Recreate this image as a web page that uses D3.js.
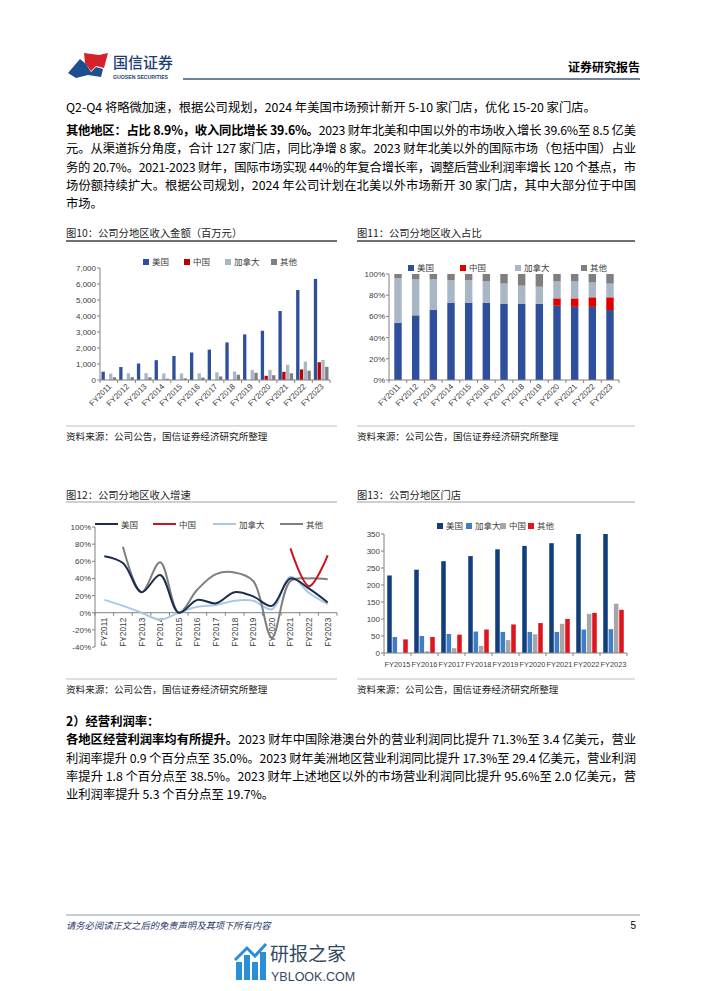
<!DOCTYPE html>
<html><head><meta charset="utf-8">
<script src="https://cdn.jsdelivr.net/npm/d3@7/dist/d3.min.js"></script>
<style>body{margin:0;background:#fff}svg{display:block}</style>
</head><body>
<script>
// ---------- DATA ----------
const years = ['FY2011','FY2012','FY2013','FY2014','FY2015','FY2016','FY2017','FY2018','FY2019','FY2020','FY2021','FY2022','FY2023'];
const seriesRev = ['美国','中国','加拿大','其他'];
// Fig10 revenue (million)
const revUS = [520,810,1030,1240,1500,1720,1900,2350,2850,3080,4310,5620,6320];
const revCN = [0,0,0,0,0,0,0,0,0,260,510,660,1110];
const revCA = [400,420,430,410,410,420,480,530,620,630,950,1150,1250];
const revOT = [170,180,170,80,100,150,220,330,450,300,420,580,820];
// Fig11 share
const shUS = [0.54,0.61,0.66,0.73,0.73,0.73,0.72,0.72,0.72,0.70,0.69,0.69,0.66];
const shCN = [0,0,0,0,0,0,0,0,0,0.07,0.08,0.09,0.12];
const shCA = [0.42,0.34,0.29,0.21,0.21,0.20,0.19,0.17,0.16,0.16,0.16,0.14,0.13];
const shOT = [0.04,0.05,0.05,0.06,0.06,0.07,0.09,0.11,0.12,0.07,0.07,0.08,0.09];
// Fig12 growth (%)
const grUS = [66,58,24,44,0,15,11,24,19,8,40,28,12];
const grCN = [null,null,null,null,null,null,null,null,null,null,75,31,67];
const grCA = [15,8,0,-8,0,7,9,14,14,4,42,23,10];
const grOT = [null,77,24,59,0,27,45,47,37,-29,37,40,39];
// Fig13 stores
const years13 = ['FY2015','FY2016','FY2017','FY2018','FY2019','FY2020','FY2021','FY2022','FY2023'];
const seriesStore = ['美国','加拿大','中国','其他'];
const stUS = [228,245,270,285,305,315,323,350,350];
const stCA = [47,50,56,63,62,62,62,69,70];
const stCN = [0,5,14,21,38,55,86,115,145];
const stOT = [40,47,54,69,84,88,100,118,127];

// ---------- PAGE ----------
const W=702,H=991;
const CJK = '"Noto Sans CJK SC","Noto Sans",sans-serif';
const NUM = '"Liberation Sans",Arial,sans-serif';
const svg = d3.select('body').append('svg').attr('width',W).attr('height',H);
svg.append('rect').attr('width',W).attr('height',H).attr('fill','#fff');

// header logo
const lg = svg.append('g');
lg.append('path').attr('d','M84,53 L99,55 L108,53 L104,68 L96,66 L91,71 L85,63 Z').attr('fill','#d7212a');
lg.append('path').attr('d','M68,73 L80,59 L86,64 L91,72 L96,67 L103,69 L101,77 L88,75 L76,78 Z').attr('fill','#1d4e8f');
lg.append('text').attr('x',113).attr('y',68).attr('font-family',CJK).attr('font-size',15).attr('fill','#1d3f73').attr('font-weight',500).text('国信证券');
lg.append('text').attr('x',113).attr('y',79).attr('font-family',NUM).attr('font-size',5.2).attr('font-weight','bold').attr('fill','#1d3f73').text('GUOSEN SECURITIES');
svg.append('line').attr('x1',183).attr('x2',640).attr('y1',79).attr('y2',79).attr('stroke','#3b5878').attr('stroke-width',1.5);
svg.append('text').attr('x',640).attr('y',72).attr('text-anchor','end').attr('font-family',CJK).attr('font-size',12).attr('font-weight','bold').text('证券研究报告');

// body text helper
function para(x,y,segs,len){
  const t = svg.append('text').attr('x',x).attr('y',y).attr('font-family',CJK).attr('font-size',12.3).attr('fill','#000');
  segs.forEach(s=>{t.append('tspan').attr('font-weight',s[1]?'bold':'normal').text(s[0]);});
  if(len){t.attr('textLength',len).attr('lengthAdjust','spacing');}
  return t;
}
const LW = 570;
para(66,112,[['Q2-Q4 将略微加速，根据公司规划，2024 年美国市场预计新开 5-10 家门店，优化 15-20 家门店。',0]]);
para(66,135,[['其他地区：占比 8.9%，收入同比增长 39.6%。',1],['2023 财年北美和中国以外的市场收入增长 39.6%至 8.5 亿美',0]],LW);
para(66,153,[['元。从渠道拆分角度，合计 127 家门店，同比净增 8 家。2023 财年北美以外的国际市场（包括中国）占业',0]],LW);
para(66,172,[['务的 20.7%。2021-2023 财年，国际市场实现 44%的年复合增长率，调整后营业利润率增长 120 个基点，市',0]],LW);
para(66,190,[['场份额持续扩大。根据公司规划，2024 年公司计划在北美以外市场新开 30 家门店，其中大部分位于中国',0]],LW);
para(66,208,[['市场。',0]]);

para(66,726,[['2）经营利润率：',1]]);
para(66,744,[['各地区经营利润率均有所提升。',1],['2023 财年中国除港澳台外的营业利润同比提升 71.3%至 3.4 亿美元，营业',0]],LW);
para(66,763,[['利润率提升 0.9 个百分点至 35.0%。2023 财年美洲地区营业利润同比提升 17.3%至 29.4 亿美元，营业利润',0]],LW);
para(66,781,[['率提升 1.8 个百分点至 38.5%。2023 财年上述地区以外的市场营业利润同比提升 95.6%至 2.0 亿美元，营',0]],LW);
para(66,799,[['业利润率提升 5.3 个百分点至 19.7%。',0]]);

// chart frames
function frame(x1,x2,ty,lineY,lineCol,srcLineY,srcY,title){
  svg.append('text').attr('x',x1).attr('y',ty).attr('font-family',CJK).attr('font-size',10.3).attr('fill','#222').text(title);
  svg.append('line').attr('x1',x1).attr('x2',x2).attr('y1',lineY).attr('y2',lineY).attr('stroke',lineCol).attr('stroke-width',1.3);
  svg.append('line').attr('x1',x1).attr('x2',x2).attr('y1',srcLineY).attr('y2',srcLineY).attr('stroke','#bfbfbf').attr('stroke-width',1);
  svg.append('text').attr('x',x1).attr('y',srcY).attr('font-family',CJK).attr('font-size',9.6).attr('fill','#222').text('资料来源：公司公告，国信证券经济研究所整理');
}
frame(66,337,237,241,'#404040',426,440,'图10：公司分地区收入金额（百万元）');
frame(357,635,237,241,'#404040',426,440,'图11：公司分地区收入占比');
frame(66,337,499,502,'#bfbfbf',679,693,'图12：公司分地区收入增速');
frame(357,635,499,502,'#bfbfbf',679,693,'图13：公司分地区门店');

const axCol = '#808080', txtCol = '#404040';
function legendSq(items,y,colors,xs){
  items.forEach((n,i)=>{
    svg.append('rect').attr('x',xs[i]).attr('y',y-3).attr('width',6).attr('height',6).attr('fill',colors[i]);
    svg.append('text').attr('x',xs[i]+9).attr('y',y+3).attr('font-family',CJK).attr('font-size',8.5).attr('fill',txtCol).text(n);
  });
}
function yAxis(g,scale,x,ticks,fmt){
  g.append('line').attr('x1',x).attr('x2',x).attr('y1',scale.range()[0]).attr('y2',scale.range()[1]).attr('stroke',axCol);
  ticks.forEach(t=>{
    g.append('line').attr('x1',x-3).attr('x2',x).attr('y1',scale(t)).attr('y2',scale(t)).attr('stroke',axCol);
    g.append('text').attr('x',x-4).attr('y',scale(t)+3).attr('text-anchor','end').attr('font-family',NUM).attr('font-size',8).attr('fill',txtCol).text(fmt(t));
  });
}
function xAxisLine(g,band,y,tickDir){
  const [a,b]=band.range();
  g.append('line').attr('x1',a).attr('x2',b).attr('y1',y).attr('y2',y).attr('stroke',axCol);
  for(let i=0;i<=band.domain().length;i++){
    const xx = a + (b-a)*i/band.domain().length;
    g.append('line').attr('x1',xx).attr('x2',xx).attr('y1',y).attr('y2',y+3*tickDir).attr('stroke',axCol);
  }
}

// ---------- Fig10 ----------
{
  const g = svg.append('g');
  const x0 = d3.scaleBand().domain(years).range([100,330]).paddingInner(0.12).paddingOuter(0.06);
  const x1 = d3.scaleBand().domain(seriesRev).range([0,x0.bandwidth()]).padding(0.12);
  const y = d3.scaleLinear().domain([0,7000]).range([380,268]);
  const cols = ['#2e4f9c','#c00000','#a9b6c6','#7f7f7f'];
  const data = [revUS,revCN,revCA,revOT];
  yAxis(g,y,100,d3.range(0,7001,1000),d3.format(','));
  data.forEach((arr,si)=>{
    g.selectAll(null).data(arr).enter().append('rect')
      .attr('x',(d,i)=>x0(years[i])+x1(seriesRev[si]))
      .attr('width',x1.bandwidth())
      .attr('y',d=>y(d)).attr('height',d=>y(0)-y(d)).attr('fill',cols[si]);
  });
  const xb = d3.scaleBand().domain(years).range([100,330]);
  xAxisLine(g,xb,380,1);
  years.forEach(yr=>{
    const cx = x0(yr)+x0.bandwidth()/2;
    g.append('text').attr('transform',`translate(${cx+3},${387}) rotate(-45)`).attr('text-anchor','end')
      .attr('font-family',NUM).attr('font-size',8).attr('fill',txtCol).text(yr);
  });
  legendSq(seriesRev,262,cols,[143,184,225,271]);
}
// ---------- Fig11 ----------
{
  const g = svg.append('g');
  const x = d3.scaleBand().domain(years).range([389,619]).paddingInner(0.58).paddingOuter(0.3);
  const y = d3.scaleLinear().domain([0,1]).range([380,274]);
  const cols = ['#2e4f9c','#e00000','#a9b6c6','#7f7f7f'];
  const data = [shUS,shCN,shCA,shOT];
  yAxis(g,y,389,d3.range(0,1.001,0.2),d3.format('.0%'));
  years.forEach((yr,i)=>{
    let base=0;
    data.forEach((arr,si)=>{
      let v = arr[i];
      if(si===3) v = Math.max(0,1-base);
      g.append('rect').attr('x',x(yr)).attr('width',x.bandwidth())
        .attr('y',y(base+v)).attr('height',y(base)-y(base+v)).attr('fill',cols[si]);
      base+=v;
    });
  });
  const xb = d3.scaleBand().domain(years).range([389,619]);
  xAxisLine(g,xb,380,1);
  years.forEach(yr=>{
    const cx = x(yr)+x.bandwidth()/2;
    g.append('text').attr('transform',`translate(${cx+3},${387}) rotate(-45)`).attr('text-anchor','end')
      .attr('font-family',NUM).attr('font-size',8).attr('fill',txtCol).text(yr);
  });
  legendSq(seriesRev,268,cols,[408,460,515,581]);
}
// ---------- Fig12 ----------
{
  const g = svg.append('g');
  const x = d3.scaleBand().domain(years).range([95,337]);
  const y = d3.scaleLinear().domain([-40,100]).range([647,527]);
  yAxis(g,y,95,d3.range(-40,101,20),d=>d+'%');
  xAxisLine(g,x,y(0),1);
  years.forEach(yr=>{
    const cx = x(yr)+x.bandwidth()/2;
    g.append('text').attr('transform',`translate(${cx+3},${y(0)+5}) rotate(-90)`).attr('text-anchor','end')
      .attr('font-family',NUM).attr('font-size',8.3).attr('fill',txtCol).text(yr);
  });
  const cols = ['#1b2c4e','#c8141e','#a8c8e8','#7f7f7f'];
  const data = [grUS,grCN,grCA,grOT];
  const line = d3.line().defined(d=>d.v!==null).x(d=>x(d.k)+x.bandwidth()/2).y(d=>y(d.v)).curve(d3.curveCatmullRom.alpha(0.5));
  [2,3,0,1].forEach(si=>{
    const pts = years.map((k,i)=>({k,v:data[si][i]}));
    g.append('path').attr('d',line(pts)).attr('fill','none').attr('stroke',cols[si]).attr('stroke-width',2);
  });
  const lx = [95,153,213,280];
  seriesRev.forEach((n,i)=>{
    g.append('line').attr('x1',lx[i]).attr('x2',lx[i]+23).attr('y1',524).attr('y2',524).attr('stroke',cols[i]).attr('stroke-width',2);
    g.append('text').attr('x',lx[i]+26).attr('y',527.5).attr('font-family',CJK).attr('font-size',8.5).attr('fill',txtCol).text(n);
  });
}
// ---------- Fig13 ----------
{
  const g = svg.append('g');
  const x0 = d3.scaleBand().domain(years13).range([384,627]).paddingInner(0.18).paddingOuter(0.09);
  const x1 = d3.scaleBand().domain(seriesStore).range([0,x0.bandwidth()]).padding(0.15);
  const y = d3.scaleLinear().domain([0,350]).range([653,534]);
  const cols = ['#123f7c','#3f7ec4','#a6a6a6','#e0141e'];
  const data = [stUS,stCA,stCN,stOT];
  yAxis(g,y,384,d3.range(0,351,50),d3.format('d'));
  data.forEach((arr,si)=>{
    g.selectAll(null).data(arr).enter().append('rect')
      .attr('x',(d,i)=>x0(years13[i])+x1(seriesStore[si]))
      .attr('width',x1.bandwidth())
      .attr('y',d=>y(d)).attr('height',d=>y(0)-y(d)).attr('fill',cols[si]);
  });
  const xb = d3.scaleBand().domain(years13).range([384,627]);
  xAxisLine(g,xb,653,1);
  years13.forEach(yr=>{
    g.append('text').attr('x',xb(yr)+xb.bandwidth()/2).attr('y',667).attr('text-anchor','middle')
      .attr('font-family',NUM).attr('font-size',7.4).attr('fill',txtCol).text(yr);
  });
  legendSq(seriesStore,526,cols,[437,466,500,528]);
}

// footer
svg.append('line').attr('x1',66).attr('x2',640).attr('y1',915).attr('y2',915).attr('stroke','#8c9aa8').attr('stroke-width',1);
svg.append('text').attr('x',66).attr('y',929).attr('font-family',CJK).attr('font-size',9.3).attr('font-style','italic').attr('fill','#1f3864').text('请务必阅读正文之后的免责声明及其项下所有内容');
svg.append('text').attr('x',636).attr('y',929).attr('text-anchor','end').attr('font-family',NUM).attr('font-size',10).attr('fill','#000').text('5');
// watermark
{
  const g = svg.append('g');
  const c='#2b8fd8';
  [[236,962,6,18],[244,955,6,25],[252,962,6,18],[260,952,6,28]].forEach(r=>g.append('rect').attr('x',r[0]).attr('y',r[1]).attr('width',r[2]).attr('height',r[3]).attr('fill',c));
  g.append('path').attr('d','M235,960 L247,948 L255,956 L266,944').attr('fill','none').attr('stroke',c).attr('stroke-width',3);
  g.append('text').attr('x',270).attr('y',961).attr('font-family',CJK).attr('font-size',19).attr('fill','#34495e').text('研报之家');
  g.append('text').attr('x',271).attr('y',981).attr('font-family',NUM).attr('font-size',12.5).attr('fill','#34495e').text('YBLOOK.COM');
}
</script>
</body></html>
